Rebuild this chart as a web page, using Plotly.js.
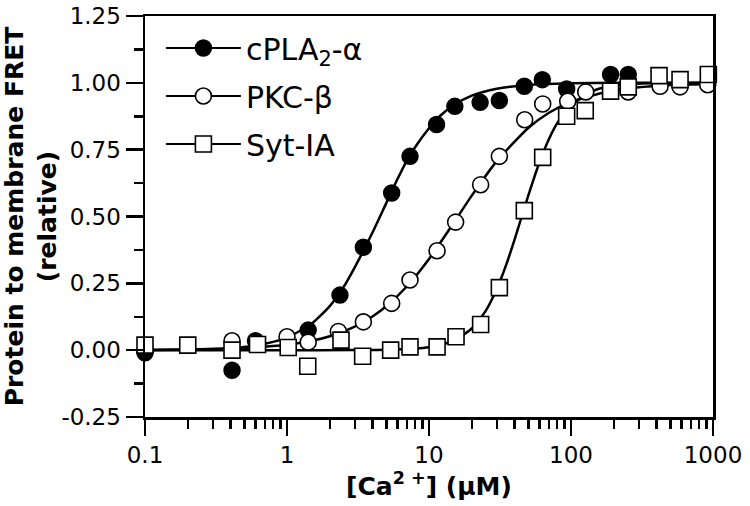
<!DOCTYPE html>
<html>
<head>
<meta charset="utf-8">
<script src="https://cdn.plot.ly/plotly-3.0.1.min.js"></script>
<style>html,body{margin:0;padding:0;background:#fff;}#chart{width:750px;height:506px;}</style>
</head>
<body>
<div id="chart"></div>
<script>
// ---- data ----
const cplaX = [0.1, 0.41, 0.6, 1.41, 2.36, 3.45, 5.46, 7.35, 11.3, 15.2, 22.9, 31.3, 46.9, 62.8, 93.2, 190, 253];
const cplaY = [-0.01, -0.075, 0.035, 0.075, 0.206, 0.385, 0.588, 0.725, 0.844, 0.912, 0.927, 0.934, 0.987, 1.012, 0.977, 1.031, 1.031];

const pkcX = [0.41, 1.0, 1.41, 2.3, 3.45, 5.46, 7.35, 11.4, 15.4, 23.1, 31.3, 47.2, 63.2, 94.8, 127, 253, 424, 586, 918];
const pkcY = [0.035, 0.05, 0.03, 0.07, 0.106, 0.175, 0.2625, 0.372, 0.479, 0.619, 0.725, 0.862, 0.921, 0.931, 0.966, 0.966, 0.987, 0.985, 0.993];

const sytX = [0.1, 0.2, 0.41, 0.62, 1.02, 1.40, 2.4, 3.41, 5.37, 7.35, 11.4, 15.5, 23.1, 31.3, 46.9, 63.2, 93.2, 126, 190, 253, 417, 586, 927];
const sytY = [0.019, 0.019, 0.0, 0.021, 0.01, -0.06, 0.0375, -0.0225, 0.0, 0.0125, 0.0125, 0.05, 0.096, 0.234, 0.522, 0.721, 0.875, 0.896, 0.969, 0.985, 1.027, 1.012, 1.031];

// fitted curves
const cplaFitX = [0.1, 0.2, 0.3, 0.5, 0.7, 1, 1.5, 2, 2.5, 3, 4, 5, 6, 7, 8, 10, 12, 15, 20, 30, 50, 100, 200, 1000];
const cplaFitY = [0.0005, 0.002, 0.004, 0.012, 0.024, 0.047, 0.10, 0.165, 0.236, 0.31, 0.44, 0.55, 0.64, 0.71, 0.76, 0.83, 0.877, 0.917, 0.952, 0.978, 0.992, 0.998, 1.0, 1.0];

const pkcFitX = [0.1, 0.3, 0.5, 1, 1.5, 2, 3, 4, 5, 7, 10, 15, 20, 30, 50, 70, 100, 200, 500, 1000];
const pkcFitY = [0.001, 0.004, 0.008, 0.02, 0.035, 0.052, 0.088, 0.126, 0.164, 0.239, 0.341, 0.478, 0.578, 0.707, 0.831, 0.888, 0.929, 0.972, 0.992, 0.996];

const sytFitX = [0.1, 1, 3, 5, 10, 15, 20, 25, 30, 35, 40, 45, 50, 60, 70, 80, 100, 150, 200, 300, 1000];
const sytFitY = [0, 0, 0.0003, 0.0014, 0.011, 0.036, 0.081, 0.146, 0.229, 0.32, 0.413, 0.5, 0.578, 0.703, 0.79, 0.849, 0.916, 0.974, 0.989, 0.997, 1.0];

const seriesNames = ['cPLA<sub>2</sub>-α', 'PKC-β', 'Syt-IA'];

const xTickVals = [0.1, 1, 10, 100, 1000];
const xTickText = ['0.1', '1', '10', '100', '1000'];
const xMinorVals = [0.2,0.3,0.4,0.5,0.6,0.7,0.8,0.9, 2,3,4,5,6,7,8,9, 20,30,40,50,60,70,80,90, 200,300,400,500,600,700,800,900];
const yTickVals = [-0.25, 0, 0.25, 0.5, 0.75, 1.0, 1.25];
const yTickText = ['-0.25', '0.00', '0.25', '0.50', '0.75', '1.00', '1.25'];
const yMinorVals = [-0.125, 0.125, 0.375, 0.625, 0.875, 1.125];

// ---- styling ----
const K = '#000';
const FAM = 'DejaVu Sans, Arial, sans-serif';
const lineStyle = {color: K, width: 2.5, shape: 'spline', smoothing: 0.6};
const mFilled = {symbol: 'circle', size: 16, color: K, line: {color: K, width: 1.5}};
const mOpen = {symbol: 'circle', size: 16, color: '#fff', line: {color: K, width: 1.6}};
const mSquare = {symbol: 'square', size: 16, color: '#fff', line: {color: K, width: 1.6}};

const fitTrace = (x, y) => ({x, y, type: 'scatter', mode: 'lines', line: lineStyle, showlegend: false, hoverinfo: 'skip'});
const ptTrace = (x, y, m) => ({x, y, type: 'scatter', mode: 'markers', marker: m, showlegend: false, cliponaxis: false});
const legTrace = (name, m, g) => ({x: [null], y: [null], type: 'scatter', mode: 'lines+markers', name, legendgroup: g,
  line: {color: K, width: 2}, marker: m, showlegend: true});

const data = [
  legTrace(seriesNames[0], mFilled, 'a'),
  legTrace(seriesNames[1], mOpen, 'b'),
  legTrace(seriesNames[2], mSquare, 'c'),
  fitTrace(cplaFitX, cplaFitY),
  fitTrace(pkcFitX, pkcFitY),
  fitTrace(sytFitX, sytFitY),
  ptTrace(cplaX, cplaY, mFilled),
  ptTrace(pkcX, pkcY, mOpen),
  ptTrace(sytX, sytY, mSquare)
];

const tickFont = {family: FAM, size: 23, color: K};

const layout = {
  width: 750, height: 506, autosize: false,
  margin: {l: 145, r: 37, t: 16, b: 89, pad: 0},
  paper_bgcolor: '#fff', plot_bgcolor: '#fff',
  font: {family: FAM, color: K},
  showlegend: true,
  legend: {x: 0.028, y: 0.985, xanchor: 'left', yanchor: 'top', bgcolor: 'rgba(0,0,0,0)',
    font: {family: FAM, size: 30, color: K}, tracegroupgap: 6, itemwidth: 75},
  xaxis: {
    type: 'log', range: [-1, 3], showgrid: false, zeroline: false,
    showline: true, linecolor: K, linewidth: 2.5, mirror: true,
    ticks: 'outside', ticklen: 16, tickwidth: 2.5, tickcolor: K,
    tickmode: 'array', tickvals: xTickVals, ticktext: xTickText, tickfont: tickFont,
    minor: {tickmode: 'array', tickvals: xMinorVals, ticks: 'outside', ticklen: 9, tickwidth: 2.5, tickcolor: K, showgrid: false},
    title: {text: '[Ca<sup>2 +</sup>] (µM)', font: {family: FAM, size: 25, color: K, weight: 'bold'}, standoff: 6}
  },
  yaxis: {
    range: [-0.25, 1.25], showgrid: false, zeroline: false,
    showline: true, linecolor: K, linewidth: 2.5, mirror: true,
    ticks: 'outside', ticklen: 17, tickwidth: 2.5, tickcolor: K,
    tickmode: 'array', tickvals: yTickVals, ticktext: yTickText, tickfont: tickFont,
    minor: {tickmode: 'array', tickvals: yMinorVals, ticks: 'outside', ticklen: 9, tickwidth: 2.5, tickcolor: K, showgrid: false},
    title: {text: 'Protein to membrane FRET<br>(relative)', font: {family: FAM, size: 25, color: K, weight: 'bold'}, standoff: 0}
  }
};

Plotly.newPlot('chart', data, layout, {displayModeBar: false, staticPlot: true});
</script>
</body>
</html>
